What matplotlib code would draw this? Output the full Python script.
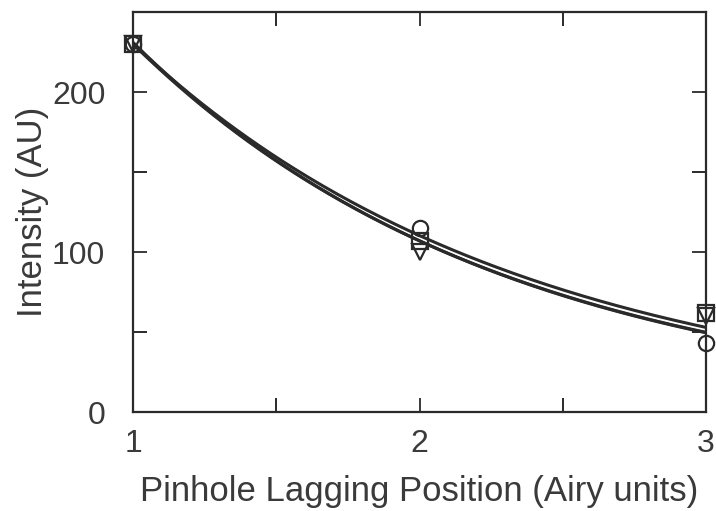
import numpy as np
import matplotlib
matplotlib.use("Agg")
from matplotlib import pyplot as plt
from matplotlib.ticker import MultipleLocator

# measured points
positions = [1, 2, 3]
circles = [230, 115, 43]
squares = [230, 107, 62]
triangles = [230, 100, 60]

# exponential fits I = a * exp(-k * (x - 1))
fit_a = [231, 230, 230]
fit_k = [0.77, 0.765, 0.735]

plt.rcParams['font.family'] = ['Liberation Sans', 'DejaVu Sans']

fig = plt.figure(figsize=(7.16, 5.11), dpi=100)
ax = fig.add_axes([0.1858, 0.1937, 0.8002, 0.7828])

dark = "#2a2a2a"
txt = "#3a3a3a"
xs = np.linspace(1, 3, 200)
for a, k in zip(fit_a, fit_k):
    ax.plot(xs, a * np.exp(-k * (xs - 1)), color=dark, linewidth=2.2, zorder=2)

mk = dict(linestyle="none", markerfacecolor="none", markeredgecolor=dark,
          markeredgewidth=1.6, markersize=11, zorder=3, clip_on=False)
ax.plot(positions, circles, marker="o", **mk)
ax.plot(positions, squares, marker="s", **mk)
ax.plot(positions, triangles, marker="v", **mk)

ax.set_xlim(1, 3)
ax.set_ylim(0, 250)
ax.set_xticks([1, 2, 3])
ax.set_yticks([0, 100, 200])
ax.xaxis.set_minor_locator(MultipleLocator(0.5))
ax.yaxis.set_minor_locator(MultipleLocator(50))

ax.tick_params(which="both", direction="in", top=True, right=True,
               length=10, width=1.4, color=dark)
ax.tick_params(axis="x", labelsize=23, pad=12, colors=txt)
ax.tick_params(axis="y", labelsize=23, pad=20, colors=txt)
for s in ax.spines.values():
    s.set_color(dark)
    s.set_linewidth(1.6)

ax.set_xlabel("Pinhole Lagging Position (Airy units)", fontsize=25, color=txt, labelpad=12)
ax.set_ylabel("Intensity (AU)", fontsize=25, color=txt, labelpad=2)

plt.savefig("out.png", dpi=100)
plt.close()
